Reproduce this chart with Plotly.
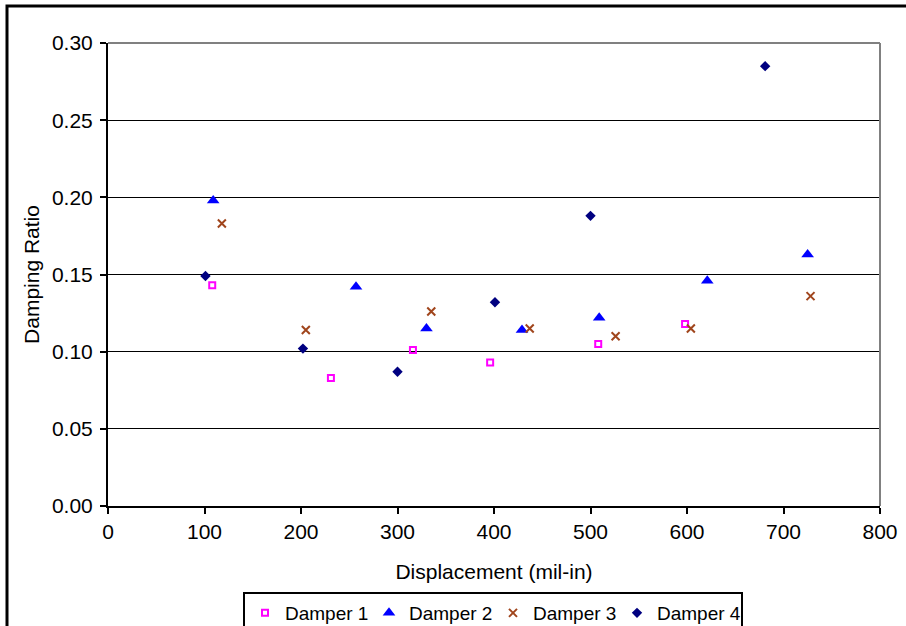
import plotly.graph_objects as go

# ---- data ----
d1_x = [108, 231, 316, 396, 508, 598]
d1_y = [0.143, 0.083, 0.101, 0.093, 0.105, 0.118]

d2_x = [109, 257, 330, 429, 509, 621, 725]
d2_y = [0.198, 0.142, 0.115, 0.114, 0.122, 0.146, 0.163]

d3_x = [118, 205, 335, 437, 526, 604, 728]
d3_y = [0.183, 0.114, 0.126, 0.115, 0.110, 0.115, 0.136]

d4_x = [101, 202, 300, 401, 500, 681]
d4_y = [0.149, 0.102, 0.087, 0.132, 0.188, 0.285]

series_names = ["Damper 1", "Damper 2", "Damper 3", "Damper 4"]
x_title = "Displacement (mil-in)"
y_title = "Damping Ratio"

FONT = "Liberation Sans, Arial, sans-serif"
FS = 21
W, H = 906, 626
L, R, T, B = 108, 26, 43, 120
pw, ph = W - L - R, H - T - B

fig = go.Figure()
fig.add_trace(go.Scatter(x=d1_x, y=d1_y, mode="markers", name=series_names[0],
                         marker=dict(symbol="square-open", size=6, color="#FF00FF",
                                     line=dict(width=2, color="#FF00FF"))))
fig.add_trace(go.Scatter(x=d2_x, y=d2_y, mode="markers", name=series_names[1],
                         marker=dict(symbol="triangle-up", size=11, color="#0000FF",
                                     line=dict(width=0))))
fig.add_trace(go.Scatter(x=d3_x, y=d3_y, mode="markers", name=series_names[2],
                         marker=dict(symbol="x-thin-open", size=8, color="#A0451C",
                                     line=dict(width=2, color="#A0451C"))))
fig.add_trace(go.Scatter(x=d4_x, y=d4_y, mode="markers", name=series_names[3],
                         marker=dict(symbol="diamond", size=8, color="#000080",
                                     line=dict(width=0))))

def px_x(p):
    return (p - L) / pw

def px_y(p):
    return (H - B - p) / ph

shapes = [
    # gray plot-area border (top and right)
    dict(type="line", xref="paper", yref="paper", x0=0, y0=1, x1=1, y1=1,
         line=dict(color="#808080", width=2), layer="above"),
    dict(type="line", xref="paper", yref="paper", x0=1, y0=0, x1=1, y1=1,
         line=dict(color="#808080", width=2), layer="above"),
    # outer chart border
    dict(type="rect", xref="paper", yref="paper",
         x0=px_x(7), y0=px_y(640), x1=px_x(920), y1=px_y(6),
         line=dict(color="black", width=3), fillcolor="rgba(0,0,0,0)", layer="above"),
]

fig.update_layout(
    width=W, height=H,
    margin=dict(l=L, r=R, t=T, b=B, autoexpand=False),
    paper_bgcolor="white", plot_bgcolor="white",
    font=dict(family=FONT, size=FS, color="black"),
    showlegend=True,
    legend=dict(orientation="h", x=px_x(493), xanchor="center",
                y=px_y(592), yanchor="top",
                bordercolor="black", borderwidth=2, bgcolor="white",
                font=dict(size=19), itemwidth=30,
                entrywidth=79, entrywidthmode="pixels"),
    shapes=shapes,
    xaxis=dict(range=[0, 800], dtick=100, tick0=0, showgrid=False, zeroline=False,
               showline=True, linecolor="black", linewidth=2,
               ticks="outside", ticklen=6, tickwidth=2, tickcolor="black",
               tickfont=dict(size=FS),
               title=dict(text=x_title, font=dict(size=FS), standoff=22)),
    yaxis=dict(range=[0, 0.30], dtick=0.05, tick0=0, tickformat=".2f",
               showgrid=True, gridcolor="black", gridwidth=1, zeroline=False,
               showline=True, linecolor="black", linewidth=2,
               ticks="outside", ticklen=6, tickwidth=2, tickcolor="black",
               tickfont=dict(size=FS), ticklabelstandoff=3,
               title=dict(text=y_title, font=dict(size=FS), standoff=7)),
)

fig.write_html("out.html")
